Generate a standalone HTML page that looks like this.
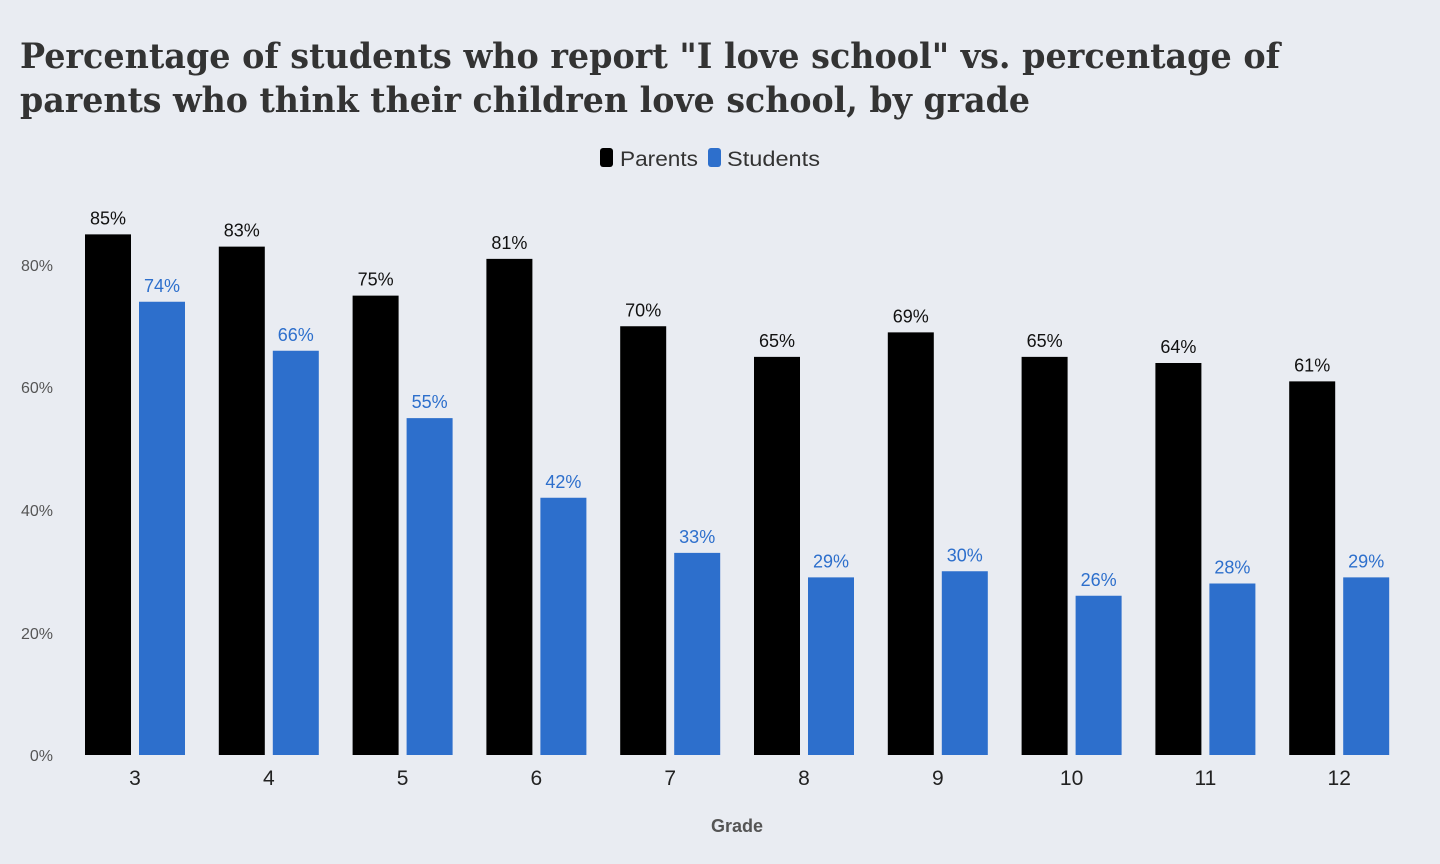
<!DOCTYPE html>
<html><head><meta charset="utf-8"><style>
html,body{margin:0;padding:0;background:#e9ecf2;}
svg{display:block;}
</style></head><body>
<svg width="1440" height="864" xmlns="http://www.w3.org/2000/svg">
<rect width="1440" height="864" fill="#e9ecf2"/>
<g font-family="'DejaVu Serif','Liberation Serif',serif" font-weight="bold" font-size="35" fill="#333">
<text x="20" y="68" textLength="1260" lengthAdjust="spacingAndGlyphs">Percentage of students who report "I love school" vs. percentage of</text>
<text x="20" y="112" textLength="1010" lengthAdjust="spacingAndGlyphs">parents who think their children love school, by grade</text>
</g>
<g font-family="'Liberation Sans',sans-serif" font-size="21" fill="#333">
<rect x="600" y="148" width="13" height="19" rx="3" fill="#000"/>
<text x="620" y="166" textLength="78" lengthAdjust="spacingAndGlyphs">Parents</text>
<rect x="708" y="148" width="13" height="19" rx="3" fill="#2d6fcc"/>
<text x="727" y="166" textLength="93" lengthAdjust="spacingAndGlyphs">Students</text>
</g>
<g font-family="'Liberation Sans',sans-serif" font-size="16" fill="#555" text-anchor="end">
<text x="53" y="761">0%</text>
<text x="53" y="639">20%</text>
<text x="53" y="516">40%</text>
<text x="53" y="393">60%</text>
<text x="53" y="271">80%</text>
</g>
<g id="bars" font-family="'Liberation Sans',sans-serif" font-size="18" text-anchor="middle"></g>
<text x="737" y="832" font-family="'Liberation Sans',sans-serif" font-weight="bold" font-size="18" fill="#555" text-anchor="middle">Grade</text>
</svg>
<script>
var p=[85,83,75,81,70,65,69,65,64,61],s=[74,66,55,42,33,29,30,26,28,29],g=document.getElementById('bars'),h='';
for(var i=0;i<10;i++){var x=85+133.8*i,yp=755-p[i]*6.125,ys=755-s[i]*6.125;
h+='<rect x="'+x+'" y="'+yp+'" width="46" height="'+(755-yp)+'" fill="#000"/>';
h+='<rect x="'+(x+54)+'" y="'+ys+'" width="46" height="'+(755-ys)+'" fill="#2d6fcc"/>';
h+='<text x="'+(x+23)+'" y="'+(yp-10)+'" fill="#111">'+p[i]+'%</text>';
h+='<text x="'+(x+77)+'" y="'+(ys-10)+'" fill="#2d6fcc">'+s[i]+'%</text>';
h+='<text x="'+(x+50)+'" y="785" font-size="21" fill="#222">'+(i+3)+'</text>';}
g.innerHTML=h;
</script>
</body></html>
